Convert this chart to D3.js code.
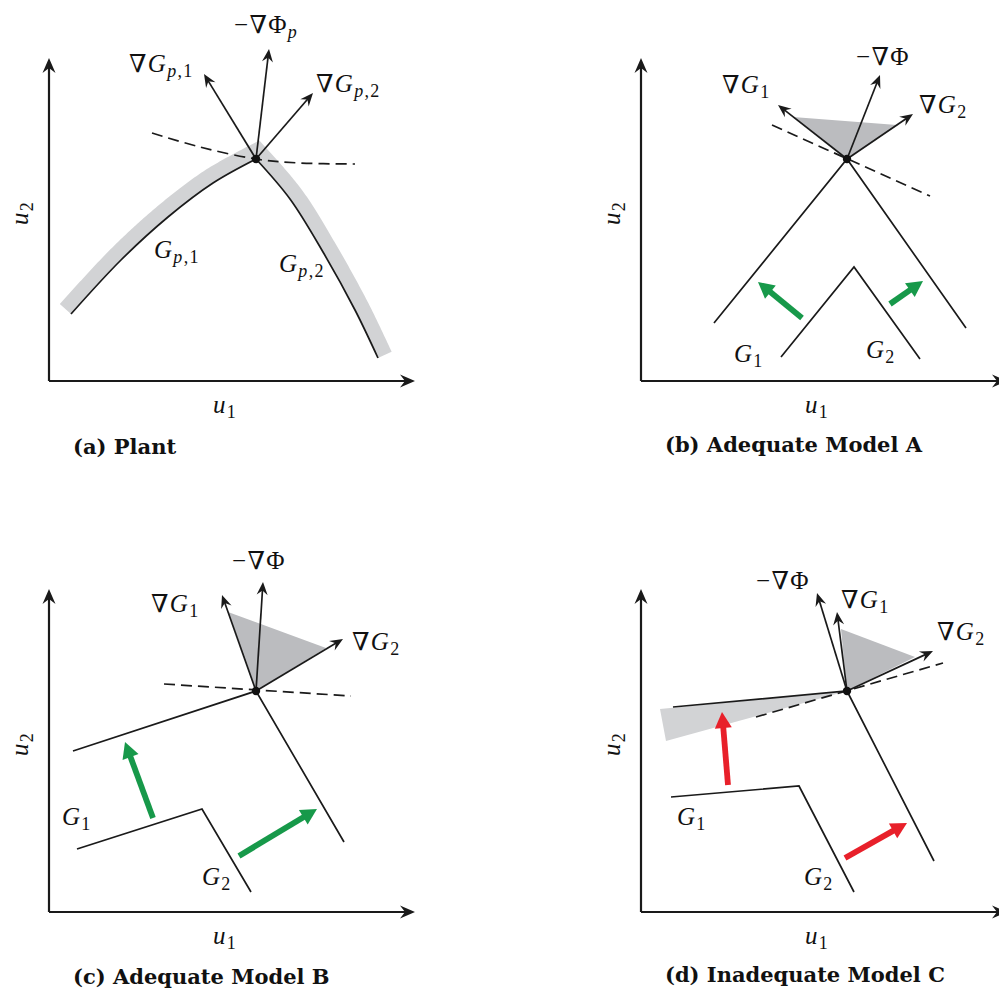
<!DOCTYPE html>
<html>
<head>
<meta charset="utf-8">
<script src="https://cdn.jsdelivr.net/npm/d3@7"></script>
<style>
  body { margin: 0; background: #fff; }
  text { font-family: "Liberation Serif", "DejaVu Serif", serif; fill: #111; }
  .cap { font-family: "DejaVu Serif", serif; font-weight: bold; font-size: 21px; }
</style>
</head>
<body>
<svg id="fig" width="999" height="989"></svg>
<script>
// all values in local axis units: [u1, u2], origin at the axis corner
var axisLen = [366, 323];

// (a) Plant
var aPoint = [207, 222];
var aG1 = [[22, 67], [72, 121], [119, 164], [164, 198], [207, 222]];
var aG2 = [[207, 222], [241, 182], [274, 129], [306, 71], [329, 23]];
var aDash = [[103, 248], [151, 234], [207, 222], [251, 218], [306, 217]];
var aGrads = [[155, 307], [220, 332], [264, 288]];

// (b) Adequate Model A
var bPoint = [206, 222];
var bOuter = [[73, 58], [206, 222], [325, 53]];
var bInner = [[140, 24], [213, 114], [279, 22]];
var bDash = [[131, 256], [289, 185]];
var bGrads = [[137, 276], [239, 306], [272, 267]];
var bCone = [[206, 222], [152, 264], [256, 256]];
var bShift = [[[161, 63], [117, 99]], [[249, 77], [282, 100]]];

// (c) Adequate Model B
var cPoint = [207, 221];
var cOuter = [[24, 161], [207, 221], [295, 70]];
var cInner = [[28, 63], [153, 103], [202, 20]];
var cDash = [[115, 228], [302, 216]];
var cGrads = [[173, 317], [214, 330], [294, 273]];
var cCone = [[207, 221], [179, 300], [277, 264]];
var cShift = [[[104, 94], [76, 170]], [[190, 56], [268, 103]]];

// (d) Inadequate Model C
var dPoint = [206, 221];
var dOuter = [[32, 205], [206, 221], [293, 51]];
var dInner = [[30, 115], [158, 126], [213, 20]];
var dDash = [[115, 195], [302, 249]];
var dWedge = [[206, 221], [19, 203], [25, 171]];
var dGrads = [[176, 319], [196, 300], [292, 261]];
var dCone = [[206, 221], [200, 283], [274, 255]];
var dShift = [[[87, 127], [81, 200]], [[204, 54], [266, 89]]];

// texts: [string, style]  r = roman, i = italic, si = italic subscript, sr = roman subscript
var tGradGp1 = [["∇", "r"], ["G", "i"], ["p", "si"], [",1", "sr"]];
var tGradGp2 = [["∇", "r"], ["G", "i"], ["p", "si"], [",2", "sr"]];
var tPhiP = [["−∇Φ", "r"], ["p", "si"]];
var tGp1 = [["G", "i"], ["p", "si"], [",1", "sr"]];
var tGp2 = [["G", "i"], ["p", "si"], [",2", "sr"]];
var tGradG1 = [["∇", "r"], ["G", "i"], ["1", "sr"]];
var tGradG2 = [["∇", "r"], ["G", "i"], ["2", "sr"]];
var tPhi = [["−∇Φ", "r"]];
var tG1 = [["G", "i"], ["1", "sr"]];
var tG2 = [["G", "i"], ["2", "sr"]];
var tU1 = [["u", "i"], ["1", "sr"]];
var tU2 = [["u", "i"], ["2", "sr"]];
var captions = ["(a) Plant", "(b) Adequate Model A", "(c) Adequate Model B", "(d) Inadequate Model C"];

var svg = d3.select("#fig");
var GREEN = "#17994a", RED = "#e8202a", BAND = "#d2d3d5", CONE = "#bbbcbf";

function mathText(g, px, py, parts, anchor) {
  var t = g.append("text").attr("x", px).attr("y", py)
    .attr("text-anchor", anchor || "start").style("font-size", "25px")
    .style("letter-spacing", "1.3px");
  var lowered = false;
  parts.forEach(function (p) {
    var s = t.append("tspan").text(p[0]);
    if (p[1] == "i" || p[1] == "si") s.style("font-style", "italic");
    if (p[1] == "si" || p[1] == "sr") {
      s.style("font-size", "18px");
      if (!lowered) { s.attr("dy", 5); lowered = true; }
    } else if (lowered) { s.attr("dy", -5); lowered = false; }
  });
  return t;
}

// arrow from a to b in pixel space; head drawn by hand at b
function arrow(g, a, b, opt) {
  var ang = Math.atan2(b[1] - a[1], b[0] - a[0]);
  var back = opt.back;
  g.append("line")
    .attr("x1", a[0]).attr("y1", a[1])
    .attr("x2", b[0] - back * Math.cos(ang)).attr("y2", b[1] - back * Math.sin(ang))
    .attr("stroke", opt.color).attr("stroke-width", opt.width);
  g.append("path").attr("d", opt.head).attr("fill", opt.color)
    .attr("transform", "translate(" + b[0] + "," + b[1] + ") rotate(" + ang * 180 / Math.PI + ")");
}
var stealth = { color: "#1a1a1a", width: 1.7, back: 8, head: "M0,0 L-13,-5.5 L-8.5,0 L-13,5.5 Z" };
var axisHead = { color: "#1a1a1a", width: 2.2, back: 9, head: "M0,0 L-15,-6.5 L-10,0 L-15,6.5 Z" };
function thick(c) { return { color: c, width: 5.8, back: 12, head: "M0,0 L-16,-8.5 L-16,8.5 Z" }; }

// sample a path string into pixel points
function sample(g, d) {
  var el = g.append("path").attr("d", d).node(), L = el.getTotalLength(), pts = [];
  for (var s = 0; s < L; s += 2) { var q = el.getPointAtLength(s); pts.push([q.x, q.y]); }
  var e = el.getPointAtLength(L); pts.push([e.x, e.y]);
  el.remove();
  return pts;
}

// band of width w lying on the upper side of a pixel polyline (mitered)
function bandPolygon(pts, w) {
  var nrm = function (a, b) {
    var dx = b[0] - a[0], dy = b[1] - a[1], l = Math.hypot(dx, dy);
    return [dy / l, -dx / l];
  };
  var outer = pts.map(function (p, i) {
    var n1 = i > 0 ? nrm(pts[i - 1], p) : nrm(p, pts[i + 1]);
    var n2 = i < pts.length - 1 ? nrm(p, pts[i + 1]) : n1;
    var n = [n1[0] + n2[0], n1[1] + n2[1]], l = Math.hypot(n[0], n[1]);
    n = [n[0] / l, n[1] / l];
    var k = w / (n[0] * n1[0] + n[1] * n1[1]);
    return [p[0] + n[0] * k, p[1] + n[1] * k];
  });
  return pts.concat(outer.reverse());
}

function panel(p) {
  var x = d3.scaleLinear().domain([0, axisLen[0]]).range([p.ox, p.ox + axisLen[0]]);
  var y = d3.scaleLinear().domain([0, axisLen[1]]).range([p.oy, p.oy - axisLen[1]]);
  var P = function (d) { return [x(d[0]), y(d[1])]; };
  var line = d3.line().x(function (d) { return x(d[0]); }).y(function (d) { return y(d[1]); });
  var smooth = d3.line().x(function (d) { return x(d[0]); }).y(function (d) { return y(d[1]); })
    .curve(d3.curveCatmullRom);
  var draw = p.smooth ? smooth : line;
  var g = svg.append("g");

  if (p.band) {
    var pts = [];
    p.curves.forEach(function (c, i) {
      var s = sample(g, smooth(c));
      pts = pts.concat(i ? s.slice(1) : s);
    });
    g.append("path").attr("d", "M" + bandPolygon(pts, p.band).join("L") + "Z").attr("fill", BAND);
  }
  if (p.wedge) g.append("path").attr("d", line(p.wedge) + "Z").attr("fill", BAND);
  if (p.cone) g.append("path").attr("d", line(p.cone) + "Z").attr("fill", CONE);

  p.curves.forEach(function (c) {
    g.append("path").attr("d", draw(c)).attr("fill", "none")
      .attr("stroke", "#1a1a1a").attr("stroke-width", 1.7);
  });
  g.append("path").attr("d", draw(p.dash)).attr("fill", "none")
    .attr("stroke", "#1a1a1a").attr("stroke-width", 1.7).attr("stroke-dasharray", "11,6");

  (p.shift || []).forEach(function (s) { arrow(g, P(s[0]), P(s[1]), thick(p.shiftColor)); });
  p.grads.forEach(function (t) { arrow(g, P(p.point), P(t), stealth); });
  g.append("circle").attr("cx", x(p.point[0])).attr("cy", y(p.point[1])).attr("r", 4.2).attr("fill", "#111");

  // axes
  arrow(g, P([0, 0]), P([axisLen[0], 0]), axisHead);
  arrow(g, P([0, 0]), P([0, axisLen[1]]), axisHead);
  mathText(g, x(176), y(-32), tU1, "middle");
  mathText(g, 0, 0, tU2, "middle")
    .attr("transform", "translate(" + (p.ox - 21) + "," + y(168) + ") rotate(-90)");

  p.labels.forEach(function (l) { mathText(g, x(l[1][0]), y(l[1][1]), l[0]); });
  g.append("text").attr("class", "cap").attr("x", p.ox + 24).attr("y", p.oy + p.capDy).text(p.caption);
}

panel({ ox: 49, oy: 381, smooth: true, band: 15, point: aPoint, curves: [aG1, aG2],
  dash: aDash, grads: aGrads, caption: captions[0], capDy: 73,
  labels: [[tGradGp1, [80, 309]], [tPhiP, [185, 348]], [tGradGp2, [267, 289]], [tGp1, [105, 123]], [tGp2, [230, 109]]] });

panel({ ox: 641, oy: 381, point: bPoint, curves: [bOuter, bInner], dash: bDash, grads: bGrads,
  cone: bCone, shift: bShift, shiftColor: GREEN, caption: captions[1], capDy: 71,
  labels: [[tGradG1, [81, 288]], [tPhi, [215, 316]], [tGradG2, [278, 268]], [tG1, [93, 19]], [tG2, [225, 23]]] });

panel({ ox: 49, oy: 912, point: cPoint, curves: [cOuter, cInner], dash: cDash, grads: cGrads,
  cone: cCone, shift: cShift, shiftColor: GREEN, caption: captions[2], capDy: 72,
  labels: [[tPhi, [183, 343]], [tGradG1, [102, 300]], [tGradG2, [303, 262]], [tG1, [13, 87]], [tG2, [153, 27]]] });

panel({ ox: 641, oy: 912, point: dPoint, curves: [dOuter, dInner], dash: dDash, grads: dGrads,
  cone: dCone, wedge: dWedge, shift: dShift, shiftColor: RED, caption: captions[3], capDy: 70,
  labels: [[tPhi, [115, 323]], [tGradG1, [200, 304]], [tGradG2, [296, 272]], [tG1, [36, 87]], [tG2, [163, 27]]] });
</script>
</body>
</html>
